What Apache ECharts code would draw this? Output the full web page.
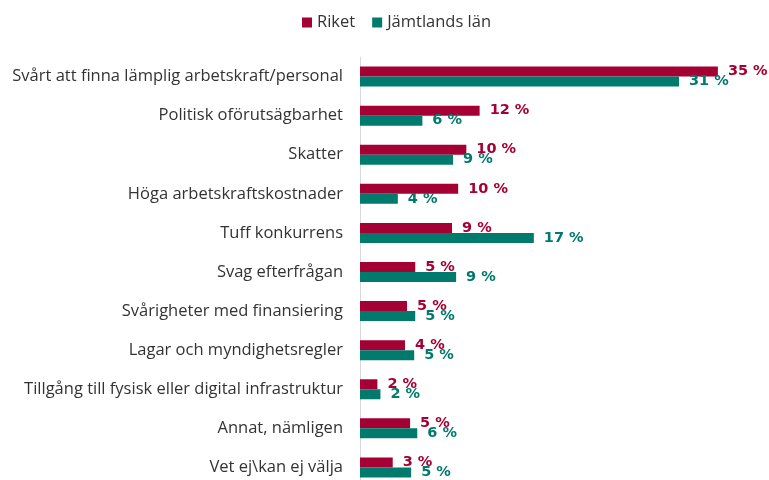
<!DOCTYPE html>
<html><head><meta charset="utf-8">
<script src="https://cdn.jsdelivr.net/npm/echarts@6/dist/echarts.min.js"></script>
<style>html,body{margin:0;padding:0;background:#fff;overflow:hidden}#c{width:769px;height:490px}</style>
</head><body><div id="c"></div>
<script>
const categories = [
  "Svårt att finna lämplig arbetskraft/personal",
  "Politisk oförutsägbarhet",
  "Skatter",
  "Höga arbetskraftskostnader",
  "Tuff konkurrens",
  "Svag efterfrågan",
  "Svårigheter med finansiering",
  "Lagar och myndighetsregler",
  "Tillgång till fysisk eller digital infrastruktur",
  "Annat, nämligen",
  "Vet ej\\kan ej välja"
];
const riket = [35.0, 11.7, 10.4, 9.6, 9.0, 5.4, 4.6, 4.4, 1.7, 4.9, 3.2];
const jamtland = [31.2, 6.1, 9.1, 3.7, 17.0, 9.4, 5.4, 5.3, 2.0, 5.6, 5.0];
const seriesNames = ["Riket", "Jämtlands län"];
const colors = ["#a50034", "#007a6c"];

const chart = echarts.init(document.getElementById('c'));
const fontFam = "'Open Sans', sans-serif";
function mkSeries(name, data, color) {
  return {
    name: name, type: 'bar', data: data,
    barWidth: 10, barGap: '0%',
    itemStyle: { color: color },
    label: {
      show: true, position: 'right', distance: 10,
      color: color, fontWeight: 'bold', fontSize: 14.5, fontFamily: "'DejaVu Sans', sans-serif",
      formatter: p => Math.round(p.value) + ' %'
    }
  };
}
chart.setOption({
  animation: false,
  color: colors,
  legend: {
    top: 9, left: 297, itemWidth: 10, itemHeight: 10, icon: 'rect', itemGap: 17,
    textStyle: { fontSize: 16.5, color: '#333', fontFamily: fontFam },
    data: seriesNames
  },
  grid: { left: 360, top: 57, width: 409.2, height: 430, containLabel: false },
  xAxis: { type: 'value', min: 0, max: 40, show: false },
  yAxis: {
    type: 'category', data: categories, inverse: true,
    axisLine: { show: true, lineStyle: { color: '#d9d9d9', width: 1 } },
    axisTick: { show: false },
    axisLabel: { fontSize: 16.5, color: '#333', margin: 17, fontFamily: fontFam }
  },
  series: [mkSeries(seriesNames[0], riket, colors[0]), mkSeries(seriesNames[1], jamtland, colors[1])]
});
</script></body></html>
